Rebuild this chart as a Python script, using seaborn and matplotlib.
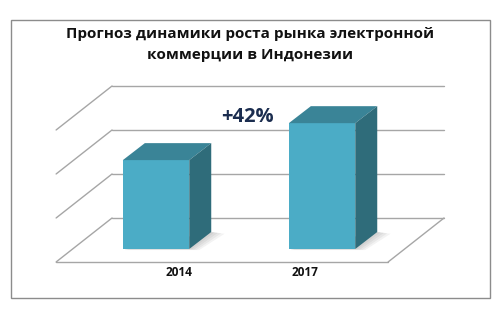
import matplotlib
matplotlib.use("Agg")
import matplotlib.pyplot as plt
from matplotlib.patches import Polygon, Rectangle
import seaborn as sns
import pandas as pd

# ---- data ----
years = ["2014", "2017"]
values = [2.02, 2.86]
growth_label = "+42%"
title = "Прогноз динамики роста рынка электронной\nкоммерции в Индонезии"
grid_levels = [0, 1, 2, 3]

FRONT = "#4BACC6"
TOP = "#3A8497"
SIDE = "#2F6C7A"
GRID = "#A6A6A6"

sns.set_theme(style="white")
plt.rcParams["font.family"] = ["Open Sans", "DejaVu Sans"]

fig = plt.figure(figsize=(5.0, 3.13), dpi=100)
ax = fig.add_axes([0, 0, 1, 1])

df = pd.DataFrame({"year": years, "value": values})
sns.barplot(data=df, x="year", y="value", color=FRONT, width=0.4,
            saturation=1, ax=ax, zorder=3, edgecolor="none")

# axis scaling: 1 category = 166 px, 1 value unit = 44 px
ax.set_xlim(-0.940, 2.072)
ax.set_ylim(-1.4545, 5.659)
ax.axis("off")

# 3D box geometry (data units)
floor_front_y = -0.295
depth = (0.337, 1.0)         # full floor depth vector
xl_front, xr_front = -0.602, 1.398
xl_back, xr_back = xl_front + depth[0], xr_front + depth[0]

for v in grid_levels:
    yb = v + floor_front_y + depth[1]
    ax.plot([xl_back, xr_back], [yb, yb], color=GRID, lw=1.0, zorder=1)
    ax.plot([xl_front, xl_back], [v + floor_front_y, yb], color=GRID, lw=1.0, zorder=1)
# floor front and right edges
ax.plot([xl_front, xr_front], [floor_front_y, floor_front_y], color=GRID, lw=1.0, zorder=1)
ax.plot([xr_front, xr_back], [floor_front_y, floor_front_y + depth[1]], color=GRID, lw=1.0, zorder=1)

# bar depth faces
bdx, bdy = 0.1325, 0.386
for p in ax.patches[:len(values)]:
    x, w, h = p.get_x(), p.get_width(), p.get_height()
    # soft shadow under the right-back part of the bar
    for k in range(4):
        off = 0.010 * (k + 1)
        sh = Polygon([(x + 0.01, -off * 0.6), (x + w + off * 1.5, -off * 0.6),
                      (x + w + bdx + off * 2.0, bdy - off), (x + w + bdx, bdy)],
                     closed=True, facecolor="#666666", alpha=0.08, edgecolor="none", zorder=2)
        ax.add_patch(sh)
    top = Polygon([(x, h), (x + w, h), (x + w + bdx, h + bdy), (x + bdx, h + bdy)],
                  closed=True, facecolor=TOP, edgecolor="none", zorder=3)
    side = Polygon([(x + w, 0), (x + w, h), (x + w + bdx, h + bdy), (x + w + bdx, bdy)],
                   closed=True, facecolor=SIDE, edgecolor="none", zorder=3)
    ax.add_patch(top)
    ax.add_patch(side)

# category labels under floor
label_x = [0.139, 0.898]
for lx, lab in zip(label_x, years):
    ax.text(lx, -0.545, lab, ha="center", va="center", fontsize=8.5,
            fontweight="bold", color="#111111", zorder=5)

# growth annotation
ax.text(0.548, 3.0, growth_label, ha="center", va="center", fontsize=14.5,
        fontweight="bold", color="#1B2D4F", zorder=5)

# title
fig.text(0.5, 0.858, title, ha="center", va="center", fontsize=11,
         fontweight="bold", color="#111111", linespacing=1.6)

# outer border
fig.patches.append(Rectangle((10.5 / 500, 1 - 298 / 313), 479.5 / 500, 278 / 313,
                             transform=fig.transFigure, fill=False,
                             edgecolor="#8C8C8C", lw=1.0, zorder=0))

fig.savefig("out.png", dpi=100, facecolor="white")
